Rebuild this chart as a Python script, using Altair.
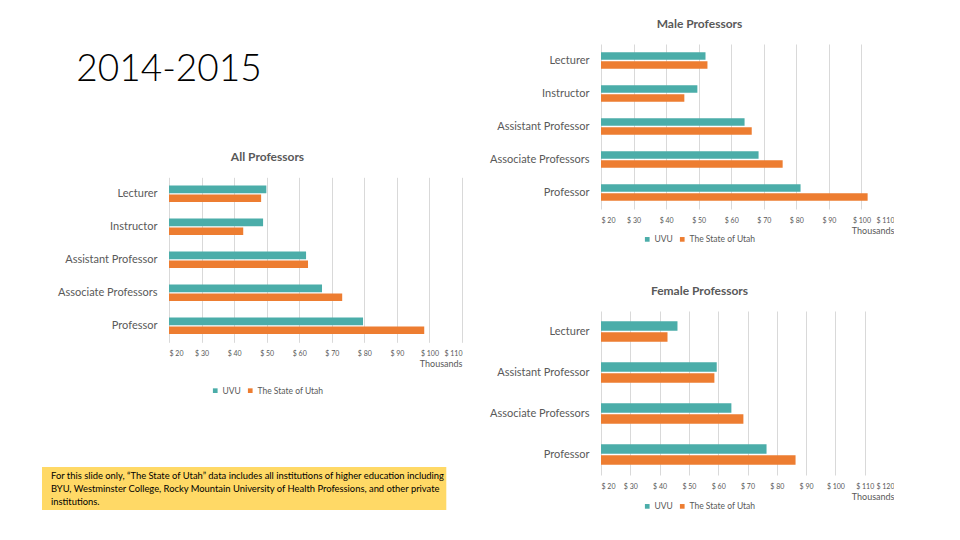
import altair as alt
import pandas as pd

series = ["UVU", "The State of Utah"]
colors = ["#4BADA9", "#ED7D31"]

all_ranks = ["Lecturer", "Instructor", "Assistant Professor", "Associate Professors", "Professor"]
all_uvu = [49.9, 48.9, 62.1, 67.0, 79.6]
all_state = [48.3, 42.8, 62.7, 73.2, 98.4]

male_ranks = ["Lecturer", "Instructor", "Assistant Professor", "Associate Professors", "Professor"]
male_uvu = [52.1, 49.6, 64.1, 68.4, 81.3]
male_state = [52.7, 45.6, 66.3, 75.8, 101.9]

female_ranks = ["Lecturer", "Assistant Professor", "Associate Professors", "Professor"]
female_uvu = [46.1, 59.5, 64.5, 76.5]
female_state = [42.7, 58.7, 68.6, 86.4]

ticks_110 = [20, 30, 40, 50, 60, 70, 80, 90, 100, 110]
ticks_120 = [20, 30, 40, 50, 60, 70, 80, 90, 100, 110, 120]

year_label = ["2014-2015"]
note_lines = [
    "For this slide only, \u201cThe State of Utah\u201d data includes all institutions of higher education including",
    "BYU, Westminster College, Rocky Mountain University of Health Professions, and other private",
    "institutions.",
]

GRAY = "#595959"
FONT = "Lato"


def panel(title, ranks, uvu, state, ticks, legend_y):
    df = pd.DataFrame({
        "rank": ranks * 2,
        "series": [series[0]] * len(ranks) + [series[1]] * len(ranks),
        "salary": uvu + state,
    })
    bars = alt.Chart(df).mark_bar().encode(
        y=alt.Y("rank:N", sort=ranks,
                scale=alt.Scale(paddingInner=0.5, paddingOuter=0.25),
                axis=alt.Axis(title=None, labelPadding=12, labelFontSize=11, labelColor=GRAY,
                              labelFont=FONT, ticks=False, domain=False, grid=False, labelLimit=300)),
        yOffset=alt.YOffset("series:N", sort=series, scale=alt.Scale(paddingInner=0.15)),
        x=alt.X("salary:Q",
                scale=alt.Scale(domain=[ticks[0], ticks[-1]], nice=False, zero=False),
                axis=alt.Axis(values=ticks, labelExpr="'$ ' + datum.value", labelFontSize=7,
                              labelColor=GRAY, labelFont=FONT, grid=True, gridColor="#D9D9D9",
                              domain=False, ticks=False, labelPadding=7.5,
                              title="Thousands", titleAnchor="end", titleAlign="right",
                              titleFontSize=9, titleFontWeight="normal", titleColor=GRAY,
                              titleFont=FONT, titlePadding=3)),
        x2=alt.datum(ticks[0]),
        color=alt.Color("series:N", sort=series,
                        scale=alt.Scale(domain=series, range=colors),
                        legend=alt.Legend(title=None, orient="none", legendX=42, legendY=legend_y,
                                          direction="horizontal", symbolType="square",
                                          symbolSize=22, labelFontSize=8.5, labelColor=GRAY,
                                          labelFont=FONT, columnPadding=5, labelOffset=3,
                                          symbolStrokeWidth=0)),
    )
    return bars, alt.TitleParams(title, dx=-48, fontSize=12, font=FONT, fontWeight="bold",
                                 color=GRAY, anchor="middle", baseline="middle", offset=8)


all_bars, all_title = panel("All Professors", all_ranks, all_uvu, all_state, ticks_110, 209)

note_df = pd.DataFrame({"n": [0]})
note_rect = alt.Chart(note_df).mark_rect(color="#FFD966").encode(
    x=alt.value(-127), x2=alt.value(277.3), y=alt.value(289.7), y2=alt.value(332.7))
note_text = alt.Chart(note_df).mark_text(
    align="left", baseline="middle", fontSize=9.4, font=FONT, lineHeight=13, color="#000000"
).encode(x=alt.value(-118), y=alt.value(298.4), text=alt.value(note_lines))

all_chart = alt.layer(all_bars, note_rect, note_text).properties(
    width=293, height=165, title=all_title)

year_df = pd.DataFrame({"label": year_label})
year_chart = alt.Chart(year_df).mark_text(
    align="left", baseline="alphabetic", fontSize=37, font=FONT, fontWeight=300, color="#000000"
).encode(text="label:N", x=alt.value(-92.7), y=alt.value(37)).properties(width=293, height=20)

male_bars, male_title = panel("Male Professors", male_ranks, male_uvu, male_state, ticks_110, 191)
male_chart = male_bars.properties(width=293, height=165, title=male_title)

female_bars, female_title = panel("Female Professors", female_ranks, female_uvu, female_state,
                                  ticks_120, 191)
female_chart = female_bars.properties(width=293, height=164, title=female_title)

left = alt.vconcat(year_chart, all_chart, spacing=113.3, bounds="flush").resolve_scale(
    color="independent", yOffset="independent").resolve_legend(color="independent")
right = alt.vconcat(male_chart, female_chart, spacing=102, bounds="flush").resolve_scale(
    color="independent", yOffset="independent").resolve_legend(color="independent")

chart = alt.hconcat(left, right, spacing=27).resolve_scale(
    color="independent", yOffset="independent").resolve_legend(color="independent").properties(
    padding={"left": 34, "top": 10, "right": 0, "bottom": 0},
    background="white",
).configure_view(stroke=None)

chart.save("out.html", embed_options={"renderer": "svg", "actions": False})
